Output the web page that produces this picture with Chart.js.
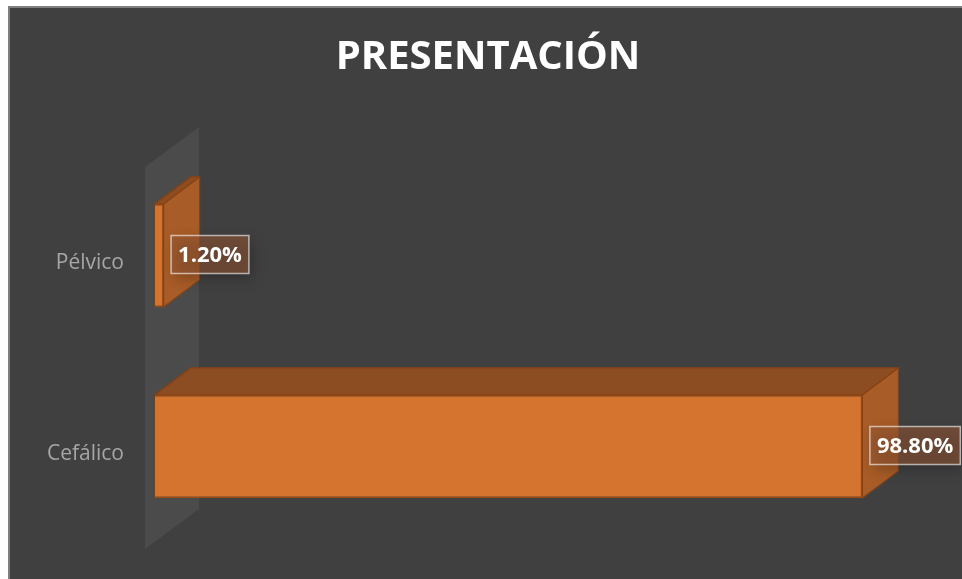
<!DOCTYPE html>
<html>
<head>
<meta charset="utf-8">
<script src="https://cdn.jsdelivr.net/npm/chart.js@4.4.1/dist/chart.umd.min.js"></script>
<style>
    body { margin: 0; background: #ffffff; }
    #panel {
        position: absolute; left: 8px; top: 6px;
        width: 952px; height: 571px;
        background: #404040;
        border-left: 2px solid #7f7f7f;
        border-top: 2px solid #7f7f7f;
    }
    canvas { display: block; }
</style>
</head>
<body>
<div id="panel"><canvas id="presChart" width="952" height="571"></canvas></div>
<script>
// Data
const categories = ['Pélvico', 'Cefálico'];
const percentages = [1.2, 98.8];
const valueLabels = ['1.20%', '98.80%'];
const chartTitle = 'PRESENTACIÓN';

// 3D look (Excel style)
const depthX = 36, depthY = -27;

// Title, centred on the whole panel
const titlePlugin = {
    id: 'panelTitle',
    afterDraw(chart) {
        const { ctx } = chart;
        ctx.save();
        ctx.font = 'bold 40px "Open Sans"';
        ctx.fillStyle = '#ffffff';
        ctx.textAlign = 'center';
        ctx.textBaseline = 'middle';
        ctx.fillText(chartTitle, chart.width / 2 + 2, 50);
        ctx.restore();
    }
};

// Side wall behind the category axis
const wallPlugin = {
    id: 'wall3d',
    beforeDatasetsDraw(chart) {
        const { ctx, chartArea } = chart;
        const x0 = chartArea.left - 10;
        ctx.save();
        ctx.fillStyle = 'rgba(255,255,255,0.06)';
        ctx.beginPath();
        ctx.moveTo(x0, chartArea.top + 7);
        ctx.lineTo(x0 + 54, chartArea.top - 33);
        ctx.lineTo(x0 + 54, chartArea.bottom - 33);
        ctx.lineTo(x0, chartArea.bottom + 7);
        ctx.closePath();
        ctx.fill();
        ctx.restore();
    }
};

// Top and side faces of each bar
const boxPlugin = {
    id: 'box3d',
    afterDatasetsDraw(chart) {
        const { ctx } = chart;
        chart.getDatasetMeta(0).data.forEach(bar => {
            const top = bar.y - bar.height / 2;
            const bottom = bar.y + bar.height / 2;
            ctx.save();
            ctx.lineWidth = 1.2;
            ctx.strokeStyle = '#8a4212';
            // top face
            ctx.fillStyle = '#8d4d22';
            ctx.beginPath();
            ctx.moveTo(bar.base, top);
            ctx.lineTo(bar.x, top);
            ctx.lineTo(bar.x + depthX, top + depthY);
            ctx.lineTo(bar.base + depthX, top + depthY);
            ctx.closePath();
            ctx.fill();
            ctx.stroke();
            // right face
            ctx.fillStyle = '#a85c27';
            ctx.beginPath();
            ctx.moveTo(bar.x, top);
            ctx.lineTo(bar.x + depthX, top + depthY);
            ctx.lineTo(bar.x + depthX, bottom + depthY);
            ctx.lineTo(bar.x, bottom);
            ctx.closePath();
            ctx.fill();
            ctx.stroke();
            ctx.restore();
        });
    }
};

// Boxed value labels
const labelPlugin = {
    id: 'valueBoxes',
    afterDraw(chart) {
        const { ctx } = chart;
        ctx.save();
        ctx.font = 'bold 22px "Open Sans"';
        ctx.textBaseline = 'middle';
        chart.getDatasetMeta(0).data.forEach((bar, i) => {
            const text = valueLabels[i];
            const w = ctx.measureText(text).width + 14;
            const h = 38;
            const x = bar.x + 7.5;
            const y = bar.y - h / 2 - 1;

            ctx.save();
            ctx.shadowColor = 'rgba(0,0,0,0.45)';
            ctx.shadowBlur = 14;
            ctx.shadowOffsetX = 4;
            ctx.shadowOffsetY = 5;
            ctx.fillStyle = 'rgba(150,88,52,0.55)';
            ctx.fillRect(x, y, w, h);
            ctx.restore();

            ctx.strokeStyle = 'rgba(255,255,255,0.6)';
            ctx.lineWidth = 1.5;
            ctx.strokeRect(x, y, w, h);

            ctx.fillStyle = '#ffffff';
            ctx.textAlign = 'center';
            ctx.fillText(text, x + w / 2, y + h / 2 + 1);
        });
        ctx.restore();
    }
};

const ctx = document.getElementById('presChart').getContext('2d');

const presChart = new Chart(ctx, {
    type: 'bar',
    data: {
        labels: categories,
        datasets: [{
            data: percentages,
            backgroundColor: '#d5742f',
            borderColor: '#9a4a14',
            borderWidth: 1.5,
            categoryPercentage: 1,
            barPercentage: 0.54
        }]
    },
    options: {
        indexAxis: 'y',
        responsive: false,
        animation: false,
        layout: {
            padding: { left: 0, right: 91, top: 152, bottom: 37 }
        },
        plugins: {
            legend: { display: false },
            tooltip: { enabled: false },
            title: { display: false }
        },
        scales: {
            x: {
                display: false,
                min: 0,
                max: 100
            },
            y: {
                afterFit: (scale) => {
                    scale.width = 145;
                    scale.paddingTop = 0;
                    scale.paddingBottom = 0;
                },
                grid: { display: false, drawTicks: false },
                border: { display: false },
                ticks: {
                    color: '#a6a6a6',
                    padding: 31,
                    labelOffset: 8,
                    font: { family: '"Open Sans"', size: 21 }
                }
            }
        }
    },
    plugins: [wallPlugin, boxPlugin, labelPlugin, titlePlugin]
});
</script>
</body>
</html>
